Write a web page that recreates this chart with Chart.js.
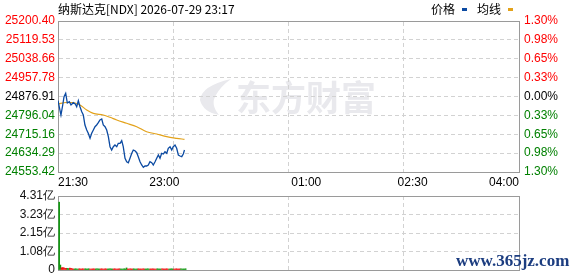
<!DOCTYPE html>
<html>
<head>
<meta charset="utf-8">
<script src="https://cdn.jsdelivr.net/npm/chart.js@4.4.1/dist/chart.umd.min.js"></script>
<style>
  body { margin: 0; background: #fff; }
  #wrap { position: relative; width: 578px; height: 276px; overflow: hidden; }
  .box { position: absolute; left: 0; width: 578px; }
  .txt { position: absolute; font: 12px "Noto Sans CJK SC", sans-serif; color: #000; line-height: 14px; white-space: nowrap; }
  .key { position: absolute; width: 5px; height: 3px; }
  #site { position: absolute; left: 456px; top: 251px; font: bold 17px "Liberation Serif", serif; color: #1c3d80; }
</style>
</head>
<body>
<div id="wrap">
  <div class="box" style="top:0;height:190px"><canvas id="chart_preco" width="578" height="190"></canvas></div>
  <div class="box" style="top:190px;height:86px"><canvas id="chart_vol" width="578" height="86"></canvas></div>
  <div class="txt" style="left:58px;top:2px">纳斯达克[NDX] 2026-07-29 23:17</div>
  <div class="txt" style="left:431px;top:2px">价格</div>
  <div class="key" style="left:462px;top:8px;background:#0b4aa2"></div>
  <div class="txt" style="left:477px;top:2px">均线</div>
  <div class="key" style="left:508px;top:8px;background:#e3a21a"></div>
  <div id="site">www.365jz.com</div>
</div>
<script>
// dados (minutos desde 21:30)
const prevClose = 24876.91;
const priceMin = [0,2.5,4,5.1,6.5,7.9,9.6,11,12.9,14.6,15.8,17.2,18.6,20.1,21.4,22.8,24.3,25.6,27.1,28.5,29.9,31.3,32.7,34.1,35.5,37,38.3,39.8,41.2,42.6,44,45.4,46.8,48.2,49.7,51,52.5,53.9,55.2,56.7,58.1,59.5,60.9,62.4,63.7,65.1,66.6,67.9,69.4,70.8,72.2,73.6,75,76.4,77.8,79.3,80.6,82.1,83.5,84.9,86.3,87.7,89.1,90.5,92,93.3,94.8,96.2,97.5,99,100.4,101.8,103.2,104.7,106,107];
const priceVal = [24858.9,24797.6,24840.5,24876.1,24890.6,24849.1,24854.6,24840.5,24850.4,24844.8,24833.2,24858.9,24833.2,24811.8,24797.6,24754.8,24733.4,24719.2,24697.8,24719.2,24733.4,24747.5,24754.8,24764.7,24776.2,24780.5,24754.8,24747.5,24733.4,24704.7,24661.8,24647.7,24661.8,24669.1,24661.8,24676.4,24676.4,24687.5,24661.8,24612.1,24597.6,24593.3,24612.1,24633.5,24647.7,24644.7,24636.1,24619.0,24597.6,24583.4,24573.6,24579.1,24579.1,24583.4,24597.6,24593.3,24583.4,24597.6,24612.1,24626.3,24612.1,24633.5,24630.5,24640.4,24633.5,24655.0,24661.8,24647.7,24661.8,24669.1,24655.0,24626.3,24622.0,24619.0,24630.5,24647.7];
const avgMin = [0,6.8,12.7,18.6,24.3,29.9,38.3,44,49.7,58.1,66.6,75,83.5,92,100.4,107];
const avgVal = [24844.8,24851.2,24851.2,24840.5,24819.1,24804.9,24797.6,24787.8,24776.2,24762.1,24747.5,24726.1,24716.2,24704.7,24697.8,24693.5];

// volume por minuto (亿), do minuto 1 em diante, e direcao (1 = alta, 0 = baixa)
const volVal = [3.95,0.29,0.13,0.14,0.12,0.10,0.10,0.09,0.08,0.11,0.10,
  0.07,0.06,0.06,0.07,0.06,0.06,0.07,0.06,0.06,0.07,
  0.06,0.07,0.06,0.06,0.07,0.06,0.06,0.06,0.07,0.06,
  0.06,0.07,0.06,0.06,0.06,0.07,0.06,0.06,0.07,0.06,
  0.06,0.06,0.07,0.06,0.06,0.06,0.07,0.06,0.06,0.06,
  0.07,0.06,0.06,0.06,0.07,0.06,0.12,0.06,0.06,0.07,
  0.06,0.06,0.07,0.06,0.06,0.06,0.07,0.06,0.06,0.06,
  0.07,0.06,0.06,0.06,0.07,0.06,0.06,0.06,0.07,0.06,
  0.06,0.06,0.07,0.06,0.06,0.06,0.07,0.06,0.06,0.06,
  0.07,0.06,0.06,0.06,0.07,0.06,0.06,0.06,0.07,0.06,
  0.06,0.06,0.07,0.06,0.06,0.06,0.07];
const volUp = [0,0, 1,1,1,1,1, 0,0, 1,1,1,1, 0,0,0,0, 1,1,1,1,1, 0,0,0,0, 1,1,1,1,1, 0,0,0,0,
  1,1,1,1,1,1, 0,0,0,0,0, 1,1,1,1,1,1, 0,0,0,0,0,0, 1,1,1,1,1, 0,0,0,0, 1,1,1,1,1,1,
  0,0,0,0, 1,1,1,1,1,1, 0,0,0,0, 1,1,1,1,1,1, 0,0,0,0, 1,1,1,1,1,1, 0,0,0,0,0];

// eixos
const priceTicks = [25200.40,25119.53,25038.66,24957.78,24876.91,24796.04,24715.16,24634.29,24553.42];
const pctLabels = ['1.30%','0.98%','0.65%','0.33%','0.00%','0.33%','0.65%','0.98%','1.30%'];
const timeTicks = [0,90,210,300,390];
const timeLabels = ['21:30','23:00','01:00','02:30','04:00'];
const gridTicks = [0,97.5,195,292.5,390];
const volTicks = [0,1.08,2.15,3.23,4.31];
const volLabels = ['0','1.08亿','2.15亿','3.23亿','4.31亿'];

const fonte = { family: '"Liberation Sans", Arial, sans-serif', size: 12 };
const corBorda = '#9a9a9a';
const corGrade = '#d2d2d2';
const vermelho = '#ff0000';
const verde = '#008000';

function fixar(w, h) {
  return function(s) {
    if (w !== null) s.width = w;
    if (h !== null) s.height = h;
    s.paddingTop = 0; s.paddingBottom = 0; s.paddingLeft = 0; s.paddingRight = 0;
  };
}

// marca d'agua 东方财富
const marcaDagua = {
  id: 'marca',
  beforeDraw(chart) {
    const c = chart.ctx;
    c.save();
    c.fillStyle = '#e9e9ed';
    c.beginPath();
    c.moveTo(231, 79);
    c.quadraticCurveTo(201, 86, 200, 100);
    c.quadraticCurveTo(203, 112, 219, 115);
    c.quadraticCurveTo(210, 104, 216, 95);
    c.quadraticCurveTo(221, 86, 231, 79);
    c.fill();
    c.font = 'bold 35px "Noto Sans CJK SC"';
    c.textBaseline = 'middle';
    c.fillText('东方财富', 236, 98);
    c.restore();
  }
};

function gerarGraficoPreco() {
  const ctx = document.getElementById('chart_preco').getContext('2d');
  new Chart(ctx, {
    type: 'line',
    data: {
      datasets: [{
        data: priceMin.map((m, i) => ({ x: m, y: priceVal[i] })),
        borderColor: '#0b4aa2',
        borderWidth: 1.3,
        pointRadius: 0,
        tension: 0
      }, {
        data: avgMin.map((m, i) => ({ x: m, y: avgVal[i] })),
        borderColor: '#e3a21a',
        borderWidth: 1.2,
        pointRadius: 0,
        cubicInterpolationMode: 'monotone'
      }]
    },
    options: {
      responsive: false,
      animation: false,
      layout: { padding: { top: 21, left: 0, right: 0, bottom: 0 } },
      plugins: { legend: { display: false }, tooltip: { enabled: false } },
      scales: {
        x: {
          type: 'linear', position: 'bottom', min: 0, max: 390,
          grid: { display: false, drawTicks: false },
          border: { color: corBorda },
          ticks: {
            align: 'inner', maxRotation: 0, autoSkip: false, padding: 3,
            color: '#000', font: fonte,
            callback: v => timeLabels[timeTicks.indexOf(v)]
          },
          afterBuildTicks: a => { a.ticks = timeTicks.map(v => ({ value: v })); },
          afterFit: fixar(null, 18)
        },
        xg: {
          type: 'linear', position: 'top', min: 0, max: 390,
          grid: { color: corGrade, drawTicks: false },
          border: { color: corBorda, dash: [4, 3] },
          ticks: { display: false },
          afterBuildTicks: a => { a.ticks = gridTicks.map(v => ({ value: v })); },
          afterFit: fixar(null, 0)
        },
        y: {
          position: 'left', min: 24553.42, max: 25200.40,
          grid: { color: corGrade, drawTicks: false },
          border: { color: corBorda, dash: [4, 3] },
          ticks: {
            padding: 3, font: fonte, autoSkip: false,
            color: c => c.tick.value > prevClose + 0.01 ? vermelho : (c.tick.value < prevClose - 0.01 ? verde : '#000'),
            callback: v => v.toFixed(2)
          },
          afterBuildTicks: a => { a.ticks = priceTicks.map(v => ({ value: v })); },
          afterFit: fixar(58, null)
        },
        yp: {
          position: 'right', min: 0, max: 8,
          grid: { display: false, drawTicks: false },
          border: { color: corBorda },
          ticks: {
            padding: 5, font: fonte, autoSkip: false,
            color: c => c.tick.value > 4 ? vermelho : (c.tick.value < 4 ? verde : '#000'),
            callback: v => pctLabels[8 - v]
          },
          afterBuildTicks: a => { a.ticks = pctLabels.map((l, i) => ({ value: 8 - i })); },
          afterFit: fixar(59, null)
        }
      }
    },
    plugins: [marcaDagua]
  });
}

function gerarGraficoVolume() {
  const ctx = document.getElementById('chart_vol').getContext('2d');
  new Chart(ctx, {
    type: 'bar',
    data: {
      datasets: [{
        data: volVal.map((v, i) => ({ x: i + 1, y: v })),
        backgroundColor: volUp.map(u => u ? '#ee1111' : '#119911'),
        barThickness: 1,
        xAxisID: 'x',
        yAxisID: 'y'
      }]
    },
    options: {
      responsive: false,
      animation: false,
      layout: { padding: { top: 6, left: 0, right: 0, bottom: 0 } },
      plugins: { legend: { display: false }, tooltip: { enabled: false } },
      scales: {
        x: {
          type: 'linear', position: 'bottom', min: 0, max: 390, offset: false,
          grid: { color: corGrade, drawTicks: false, offset: false },
          border: { color: corBorda, dash: [4, 3] },
          ticks: { display: false },
          afterBuildTicks: a => { a.ticks = gridTicks.map(v => ({ value: v })); },
          afterFit: fixar(null, 6)
        },
        xt: {
          type: 'linear', position: 'top', min: 0, max: 390,
          grid: { display: false, drawTicks: false },
          border: { color: corBorda },
          ticks: { display: false },
          afterFit: fixar(null, 0)
        },
        y: {
          position: 'left', min: 0, max: 4.31,
          grid: { color: corGrade, drawTicks: false },
          border: { color: corBorda, dash: [4, 3] },
          ticks: {
            padding: 3, font: fonte, color: '#111', autoSkip: false,
            callback: v => volLabels[volTicks.indexOf(v)]
          },
          afterBuildTicks: a => { a.ticks = volTicks.map(v => ({ value: v })); },
          afterFit: fixar(58, null)
        },
        yr: {
          position: 'right', min: 0, max: 1,
          grid: { display: false, drawTicks: false },
          border: { color: corBorda },
          ticks: { display: false },
          afterFit: fixar(59, null)
        }
      }
    }
  });
}

gerarGraficoPreco();
gerarGraficoVolume();
</script>
</body>
</html>
